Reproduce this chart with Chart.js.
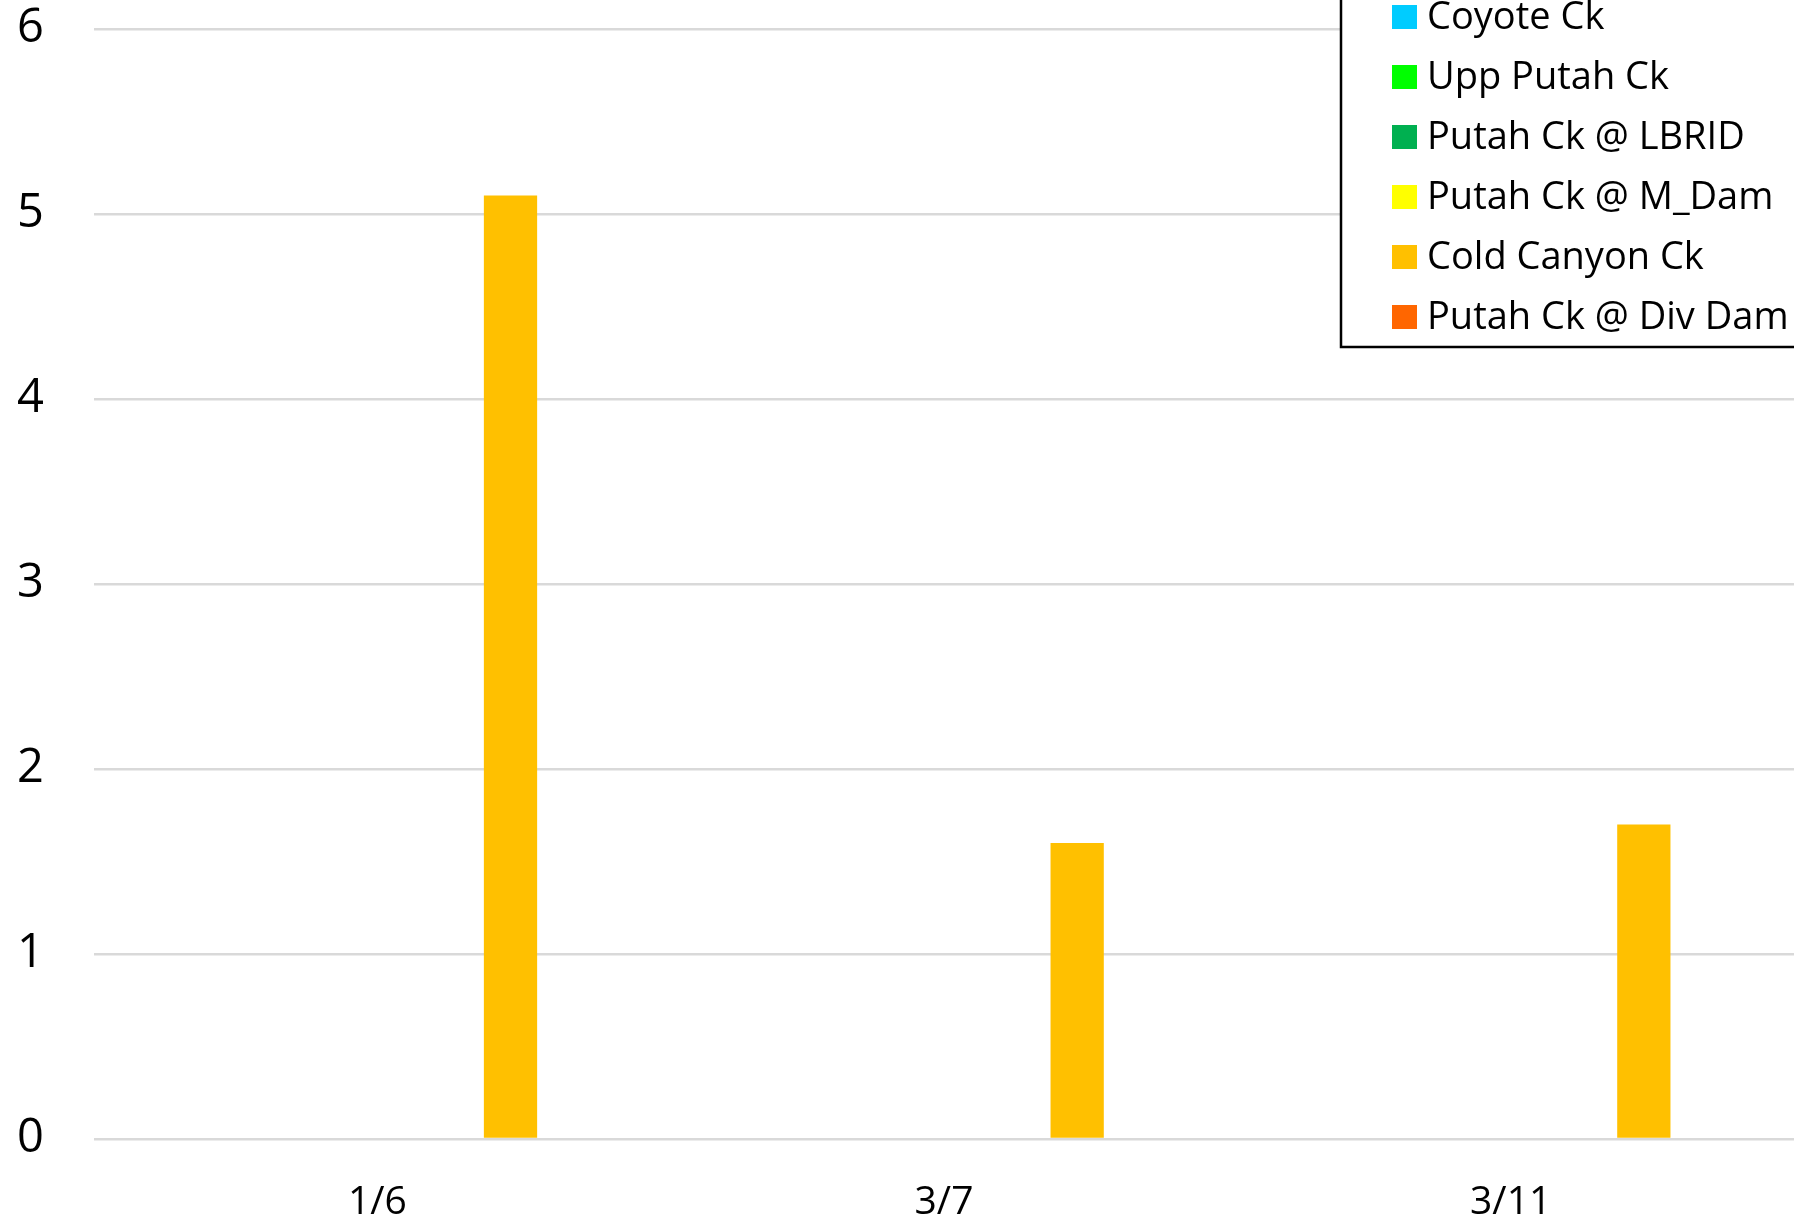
<!DOCTYPE html>
<html>
<head>
<meta charset="utf-8">
<script src="https://cdn.jsdelivr.net/npm/chart.js@4"></script>
<style>
  html, body { margin: 0; padding: 0; background: #fff; }
  #wrap { width: 1794px; height: 1225px; overflow: hidden; }
</style>
</head>
<body>
<div id="wrap"><canvas id="MyChart" width="1794" height="1225"></canvas></div>
<script>
// dates sampled
const categories = ['1/6', '3/7', '3/11'];
const yTicks = [0, 1, 2, 3, 4, 5, 6];

// one array per site (sites without results have no bars)
// the first two slots are series whose legend rows sit above the cropped top edge
const hiddenA = [null, null, null];
const hiddenB = [null, null, null];
const coyoteCk = [null, null, null];
const uppPutahCk = [null, null, null];
const putahLbrid = [null, null, null];
const putahMDam = [null, null, null];
const coldCanyonCk = [5.1, 1.6, 1.7];
const putahDivDam = [null, null, null];

const seriesNames = ['', '', 'Coyote Ck', 'Upp Putah Ck', 'Putah Ck @ LBRID', 'Putah Ck @ M_Dam', 'Cold Canyon Ck', 'Putah Ck @ Div Dam'];
const seriesColors = ['#bfbfbf', '#bfbfbf', '#00CCFF', '#00FF00', '#00B050', '#FFFF00', '#FFC000', '#FF6600'];
const seriesValues = [hiddenA, hiddenB, coyoteCk, uppPutahCk, putahLbrid, putahMDam, coldCanyonCk, putahDivDam];

const FONT = '"Open Sans", "Liberation Sans", sans-serif';

/* legend box in the top right corner, partly off the canvas */
const boxLegend = {
    id: 'boxLegend',
    afterDraw(chart) {
        const ctx = chart.ctx;
        const left = 1341, bottom = 347;
        ctx.save();
        ctx.fillStyle = '#fff';
        ctx.fillRect(left, -20, 500, bottom + 20);
        ctx.strokeStyle = '#000';
        ctx.lineWidth = 2.5;
        ctx.strokeRect(left, -20, 500, bottom + 20);
        ctx.font = '38px ' + FONT;
        ctx.textBaseline = 'middle';
        ctx.textAlign = 'left';
        chart.data.datasets.forEach(function(ds, i){
            const cy = 17 + (i - 2) * 60;
            if (cy < -30) return;
            ctx.fillStyle = ds.backgroundColor;
            ctx.fillRect(1392, cy - 12, 25, 24);
            ctx.fillStyle = '#000';
            ctx.fillText(ds.label, 1427, cy + 1);
        });
        ctx.restore();
    }
};

const ctx = document.getElementById('MyChart').getContext('2d');
new Chart(ctx, {
    type: 'bar',
    data: {
        labels: categories,
        datasets: seriesNames.map(function(name, i){
            return {
                label: name,
                data: seriesValues[i],
                backgroundColor: seriesColors[i],
                borderWidth: 0,
                categoryPercentage: 0.752,
                barPercentage: 1.0
            };
        })
    },
    options: {
        responsive: false,
        animation: false,
        devicePixelRatio: 1,
        layout: { padding: { top: 29, right: -5, bottom: 0, left: 17 } },
        plugins: {
            legend: { display: false },
            tooltip: { enabled: false },
            title: { display: false }
        },
        scales: {
            x: {
                grid: { display: false, drawTicks: false },
                border: { display: false },
                ticks: {
                    color: '#000',
                    font: { family: FONT, size: 39 },
                    padding: 40
                },
                afterFit: function(s){ s.height = 86; }
            },
            y: {
                min: 0,
                max: 6,
                afterBuildTicks: function(s){ s.ticks = yTicks.map(function(v){ return { value: v }; }); },
                grid: { color: '#d9d9d9', lineWidth: 2.5, drawTicks: false },
                border: { display: false },
                ticks: {
                    color: '#000',
                    font: { family: FONT, size: 47 },
                    padding: 0,
                    crossAlign: 'far'
                },
                afterFit: function(s){ s.width = 77; }
            }
        }
    },
    plugins: [boxLegend]
});
</script>
</body>
</html>
